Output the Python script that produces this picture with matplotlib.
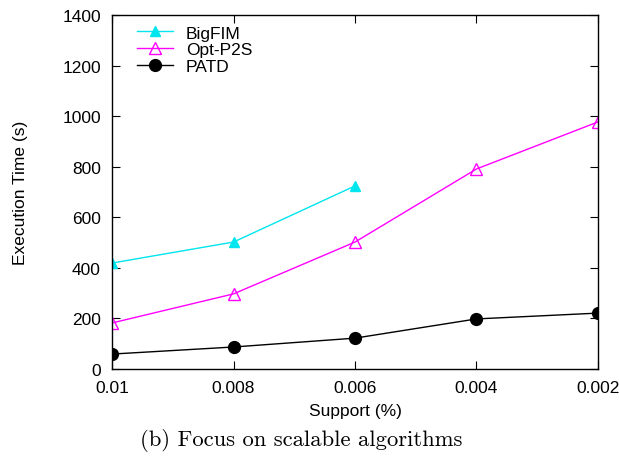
import matplotlib
matplotlib.use("Agg")
import matplotlib.pyplot as plt

support = ["0.01", "0.008", "0.006", "0.004", "0.002"]
bigfim = [419, 502, 724]
optp2s = [182, 297, 502, 791, 977]
patd = [59, 87, 122, 198, 221]

plt.rcParams['font.family'] = ['Liberation Sans', 'DejaVu Sans']

fig = plt.figure(figsize=(6.19, 4.64), dpi=100)
ax = fig.add_axes([0.181, 0.2026, 0.785, 0.763])

x_all = list(range(len(support)))
ax.plot(x_all[:len(bigfim)], bigfim, color='#00e5ee', marker='^', markersize=7.5,
        linewidth=1, label='BigFIM', markerfacecolor='#00e5ee', markeredgecolor='#00e5ee')
ax.plot(x_all[:len(optp2s)], optp2s, color='#ff00ff', marker='^', markersize=8.5,
        linewidth=1, label='Opt-P2S', markerfacecolor='none', markeredgecolor='#ff00ff')
ax.plot(x_all[:len(patd)], patd, color='black', marker='o', markersize=8.5,
        linewidth=1, label='PATD')

ax.set_xlim(0, len(support) - 1)
ax.set_ylim(0, 1400)
ax.set_xticks(x_all)
ax.set_xticklabels(support)
ax.set_yticks(range(0, 1401, 200))
ax.tick_params(direction='in', top=True, right=True, length=6, labelsize=12.5, pad=8)
ax.set_xlabel('Support (%)', fontsize=12.5, labelpad=6)
ax.set_ylabel('Execution Time (s)', fontsize=12.5, labelpad=25)
for s in ax.spines.values():
    s.set_linewidth(1)

ax.legend(loc='upper left', frameon=False, fontsize=12.5, handlelength=2.1,
          labelspacing=0.1, borderaxespad=0.2, handletextpad=0.7,
          bbox_to_anchor=(0.03, 1.0))

fig.text(0.486, 0.05, '(b) Focus on scalable algorithms', ha='center', va='center',
         fontsize=16.3, family=['cmr10', 'DejaVu Serif'])

fig.savefig('out.png', dpi=100)
